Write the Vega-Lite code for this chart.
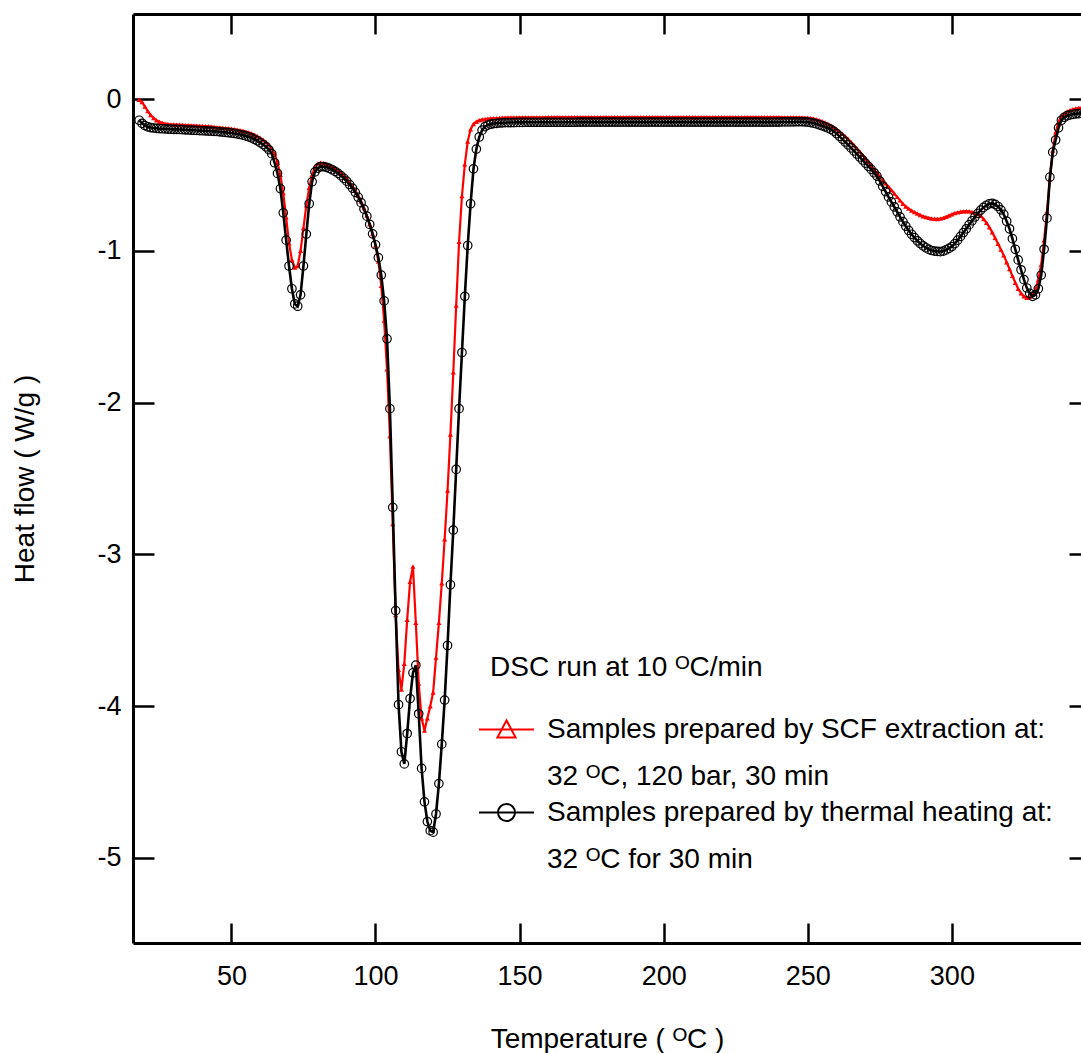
{
  "$schema": "https://vega.github.io/schema/vega-lite/v6.json",
  "width": 948,
  "height": 929,
  "autosize": {"type": "none"},
  "padding": {"left": 133, "top": 14, "right": 0, "bottom": 110},
  "background": "white",
  "config": {
    "view": {"stroke": null},
    "font": "Liberation Sans, Arial, DejaVu Sans, sans-serif",
    "axis": {
      "domainColor": "black", "domainWidth": 3, "tickColor": "black", "tickWidth": 2.5,
      "labelFont": "Liberation Sans, Arial, DejaVu Sans, sans-serif", "labelFontSize": 27, "labelColor": "black",
      "titleFont": "Liberation Sans, Arial, DejaVu Sans, sans-serif", "titleFontSize": 28, "titleFontWeight": "normal", "titleColor": "black",
      "grid": false
    }
  },
  "data": {"values": [
{"T":18,"a":-0.005,"b":-0.14},{"T":19,"a":-0.02,"b":-0.16},{"T":20,"a":-0.05,"b":-0.175},{"T":21,"a":-0.08,"b":-0.183},{"T":22,"a":-0.105,"b":-0.188},{"T":23,"a":-0.125,"b":-0.191},{"T":24,"a":-0.14,"b":-0.193},{"T":25,"a":-0.15,"b":-0.195},{"T":26,"a":-0.157,"b":-0.196},{"T":27,"a":-0.162,"b":-0.197},{"T":28,"a":-0.165,"b":-0.198},{"T":29,"a":-0.167,"b":-0.199},
{"T":30,"a":-0.168,"b":-0.2},{"T":31,"a":-0.169,"b":-0.2},{"T":32,"a":-0.17,"b":-0.201},{"T":33,"a":-0.171,"b":-0.202},{"T":34,"a":-0.172,"b":-0.203},{"T":35,"a":-0.173,"b":-0.204},{"T":36,"a":-0.174,"b":-0.205},{"T":37,"a":-0.175,"b":-0.206},{"T":38,"a":-0.176,"b":-0.207},{"T":39,"a":-0.177,"b":-0.208},
{"T":40,"a":-0.178,"b":-0.209},{"T":41,"a":-0.179,"b":-0.21},{"T":42,"a":-0.18,"b":-0.211},{"T":43,"a":-0.182,"b":-0.212},{"T":44,"a":-0.184,"b":-0.213},{"T":45,"a":-0.186,"b":-0.214},{"T":46,"a":-0.188,"b":-0.216},{"T":47,"a":-0.19,"b":-0.218},{"T":48,"a":-0.192,"b":-0.22},{"T":49,"a":-0.194,"b":-0.222},
{"T":50,"a":-0.196,"b":-0.224},{"T":51,"a":-0.199,"b":-0.227},{"T":52,"a":-0.202,"b":-0.23},{"T":53,"a":-0.206,"b":-0.234},{"T":54,"a":-0.21,"b":-0.238},{"T":55,"a":-0.215,"b":-0.243},{"T":56,"a":-0.22,"b":-0.249},{"T":57,"a":-0.227,"b":-0.256},{"T":58,"a":-0.235,"b":-0.265},{"T":59,"a":-0.245,"b":-0.275},
{"T":60,"a":-0.256,"b":-0.287},{"T":61,"a":-0.268,"b":-0.3},{"T":62,"a":-0.283,"b":-0.315},{"T":63,"a":-0.3,"b":-0.333},{"T":64,"a":-0.325,"b":-0.36},{"T":65,"a":-0.36,"b":-0.42},{"T":66,"a":-0.42,"b":-0.49},{"T":67,"a":-0.5,"b":-0.59},{"T":68,"a":-0.62,"b":-0.75},{"T":69,"a":-0.78,"b":-0.93},
{"T":70,"a":-0.95,"b":-1.1},{"T":71,"a":-1.06,"b":-1.25},{"T":72,"a":-1.11,"b":-1.35},{"T":73,"a":-1.1,"b":-1.365},{"T":74,"a":-1.0,"b":-1.29},{"T":75,"a":-0.85,"b":-1.1},{"T":76,"a":-0.7,"b":-0.89},{"T":77,"a":-0.585,"b":-0.69},{"T":78,"a":-0.5,"b":-0.545},{"T":79,"a":-0.45,"b":-0.48},
{"T":80,"a":-0.425,"b":-0.455},{"T":81,"a":-0.42,"b":-0.445},{"T":82,"a":-0.423,"b":-0.446},{"T":83,"a":-0.428,"b":-0.45},{"T":84,"a":-0.436,"b":-0.457},{"T":85,"a":-0.446,"b":-0.466},{"T":86,"a":-0.458,"b":-0.477},{"T":87,"a":-0.472,"b":-0.49},{"T":88,"a":-0.488,"b":-0.505},{"T":89,"a":-0.506,"b":-0.522},
{"T":90,"a":-0.526,"b":-0.541},{"T":91,"a":-0.549,"b":-0.563},{"T":92,"a":-0.575,"b":-0.587},{"T":93,"a":-0.604,"b":-0.615},{"T":94,"a":-0.637,"b":-0.647},{"T":95,"a":-0.675,"b":-0.683},{"T":96,"a":-0.718,"b":-0.725},{"T":97,"a":-0.768,"b":-0.772},{"T":98,"a":-0.825,"b":-0.826},{"T":99,"a":-0.89,"b":-0.888},
{"T":100,"a":-0.965,"b":-0.96},{"T":101,"a":-1.07,"b":-1.045},{"T":102,"a":-1.23,"b":-1.16},{"T":103,"a":-1.46,"b":-1.33},{"T":104,"a":-1.78,"b":-1.58},{"T":105,"a":-2.22,"b":-2.04},{"T":106,"a":-2.8,"b":-2.69},{"T":107,"a":-3.4,"b":-3.37},{"T":108,"a":-3.76,"b":-3.99},{"T":109,"a":-3.89,"b":-4.3},
{"T":110,"a":-3.72,"b":-4.38},{"T":111,"a":-3.43,"b":-4.18},{"T":112,"a":-3.18,"b":-3.95},{"T":113,"a":-3.08,"b":-3.78},{"T":114,"a":-3.45,"b":-3.73},{"T":115,"a":-3.85,"b":-4.05},{"T":116,"a":-4.08,"b":-4.41},{"T":117,"a":-4.16,"b":-4.63},{"T":118,"a":-4.08,"b":-4.76},{"T":119,"a":-4.0,"b":-4.82},
{"T":120,"a":-3.91,"b":-4.83},{"T":121,"a":-3.68,"b":-4.71},{"T":122,"a":-3.45,"b":-4.51},{"T":123,"a":-3.19,"b":-4.25},{"T":124,"a":-2.9,"b":-3.96},{"T":125,"a":-2.58,"b":-3.6},{"T":126,"a":-2.21,"b":-3.2},{"T":127,"a":-1.8,"b":-2.84},{"T":128,"a":-1.36,"b":-2.44},{"T":129,"a":-0.94,"b":-2.04},
{"T":130,"a":-0.64,"b":-1.67},{"T":131,"a":-0.43,"b":-1.3},{"T":132,"a":-0.28,"b":-0.965},{"T":133,"a":-0.2,"b":-0.69},{"T":134,"a":-0.165,"b":-0.46},{"T":135,"a":-0.15,"b":-0.33},{"T":136,"a":-0.14,"b":-0.25},{"T":137,"a":-0.135,"b":-0.205},{"T":138,"a":-0.132,"b":-0.182},{"T":139,"a":-0.13,"b":-0.172},
{"T":140,"a":-0.128,"b":-0.166},{"T":141,"a":-0.127,"b":-0.162},{"T":142,"a":-0.126,"b":-0.16},{"T":143,"a":-0.125,"b":-0.158},{"T":144,"a":-0.124,"b":-0.157},{"T":145,"a":-0.123,"b":-0.156},{"T":146,"a":-0.122,"b":-0.155},{"T":147,"a":-0.122,"b":-0.155},{"T":148,"a":-0.122,"b":-0.155},{"T":149,"a":-0.122,"b":-0.154},
{"T":150,"a":-0.121,"b":-0.154},{"T":151,"a":-0.121,"b":-0.154},{"T":152,"a":-0.121,"b":-0.153},{"T":153,"a":-0.121,"b":-0.153},{"T":154,"a":-0.121,"b":-0.153},{"T":155,"a":-0.121,"b":-0.153},{"T":156,"a":-0.121,"b":-0.153},{"T":157,"a":-0.121,"b":-0.153},{"T":158,"a":-0.121,"b":-0.153},{"T":159,"a":-0.121,"b":-0.153},
{"T":160,"a":-0.12,"b":-0.153},{"T":161,"a":-0.12,"b":-0.153},{"T":162,"a":-0.12,"b":-0.153},{"T":163,"a":-0.12,"b":-0.153},{"T":164,"a":-0.12,"b":-0.153},{"T":165,"a":-0.12,"b":-0.153},{"T":166,"a":-0.12,"b":-0.153},{"T":167,"a":-0.12,"b":-0.153},{"T":168,"a":-0.12,"b":-0.153},{"T":169,"a":-0.12,"b":-0.153},
{"T":170,"a":-0.12,"b":-0.152},{"T":171,"a":-0.12,"b":-0.152},{"T":172,"a":-0.12,"b":-0.152},{"T":173,"a":-0.12,"b":-0.152},{"T":174,"a":-0.12,"b":-0.152},{"T":175,"a":-0.12,"b":-0.152},{"T":176,"a":-0.12,"b":-0.152},{"T":177,"a":-0.12,"b":-0.152},{"T":178,"a":-0.12,"b":-0.152},{"T":179,"a":-0.12,"b":-0.152},
{"T":180,"a":-0.12,"b":-0.152},{"T":181,"a":-0.12,"b":-0.152},{"T":182,"a":-0.12,"b":-0.152},{"T":183,"a":-0.12,"b":-0.152},{"T":184,"a":-0.12,"b":-0.152},{"T":185,"a":-0.12,"b":-0.152},{"T":186,"a":-0.12,"b":-0.152},{"T":187,"a":-0.12,"b":-0.152},{"T":188,"a":-0.12,"b":-0.152},{"T":189,"a":-0.12,"b":-0.152},
{"T":190,"a":-0.12,"b":-0.152},{"T":191,"a":-0.12,"b":-0.152},{"T":192,"a":-0.12,"b":-0.152},{"T":193,"a":-0.12,"b":-0.152},{"T":194,"a":-0.12,"b":-0.152},{"T":195,"a":-0.12,"b":-0.152},{"T":196,"a":-0.12,"b":-0.152},{"T":197,"a":-0.12,"b":-0.152},{"T":198,"a":-0.12,"b":-0.152},{"T":199,"a":-0.12,"b":-0.152},
{"T":200,"a":-0.12,"b":-0.152},{"T":201,"a":-0.12,"b":-0.152},{"T":202,"a":-0.12,"b":-0.152},{"T":203,"a":-0.12,"b":-0.152},{"T":204,"a":-0.12,"b":-0.152},{"T":205,"a":-0.12,"b":-0.152},{"T":206,"a":-0.12,"b":-0.152},{"T":207,"a":-0.12,"b":-0.152},{"T":208,"a":-0.12,"b":-0.152},{"T":209,"a":-0.12,"b":-0.152},
{"T":210,"a":-0.12,"b":-0.152},{"T":211,"a":-0.12,"b":-0.152},{"T":212,"a":-0.12,"b":-0.152},{"T":213,"a":-0.12,"b":-0.152},{"T":214,"a":-0.12,"b":-0.152},{"T":215,"a":-0.12,"b":-0.152},{"T":216,"a":-0.12,"b":-0.152},{"T":217,"a":-0.12,"b":-0.152},{"T":218,"a":-0.12,"b":-0.152},{"T":219,"a":-0.12,"b":-0.152},
{"T":220,"a":-0.12,"b":-0.152},{"T":221,"a":-0.12,"b":-0.152},{"T":222,"a":-0.12,"b":-0.152},{"T":223,"a":-0.12,"b":-0.152},{"T":224,"a":-0.12,"b":-0.152},{"T":225,"a":-0.12,"b":-0.152},{"T":226,"a":-0.12,"b":-0.152},{"T":227,"a":-0.12,"b":-0.152},{"T":228,"a":-0.12,"b":-0.152},{"T":229,"a":-0.12,"b":-0.152},
{"T":230,"a":-0.12,"b":-0.152},{"T":231,"a":-0.12,"b":-0.152},{"T":232,"a":-0.12,"b":-0.152},{"T":233,"a":-0.12,"b":-0.152},{"T":234,"a":-0.12,"b":-0.152},{"T":235,"a":-0.12,"b":-0.152},{"T":236,"a":-0.12,"b":-0.152},{"T":237,"a":-0.12,"b":-0.152},{"T":238,"a":-0.12,"b":-0.152},{"T":239,"a":-0.12,"b":-0.152},
{"T":240,"a":-0.12,"b":-0.152},{"T":241,"a":-0.121,"b":-0.151},{"T":242,"a":-0.121,"b":-0.151},{"T":243,"a":-0.121,"b":-0.151},{"T":244,"a":-0.121,"b":-0.151},{"T":245,"a":-0.121,"b":-0.151},{"T":246,"a":-0.121,"b":-0.15},{"T":247,"a":-0.121,"b":-0.15},{"T":248,"a":-0.122,"b":-0.15},{"T":249,"a":-0.123,"b":-0.151},
{"T":250,"a":-0.124,"b":-0.152},{"T":251,"a":-0.126,"b":-0.155},{"T":252,"a":-0.129,"b":-0.159},{"T":253,"a":-0.134,"b":-0.164},{"T":254,"a":-0.14,"b":-0.17},{"T":255,"a":-0.147,"b":-0.176},{"T":256,"a":-0.155,"b":-0.183},{"T":257,"a":-0.164,"b":-0.191},{"T":258,"a":-0.175,"b":-0.2},{"T":259,"a":-0.187,"b":-0.212},
{"T":260,"a":-0.2,"b":-0.228},{"T":261,"a":-0.214,"b":-0.246},{"T":262,"a":-0.229,"b":-0.264},{"T":263,"a":-0.246,"b":-0.283},{"T":264,"a":-0.264,"b":-0.302},{"T":265,"a":-0.283,"b":-0.322},{"T":266,"a":-0.303,"b":-0.342},{"T":267,"a":-0.324,"b":-0.362},{"T":268,"a":-0.345,"b":-0.382},{"T":269,"a":-0.368,"b":-0.402},
{"T":270,"a":-0.392,"b":-0.422},{"T":271,"a":-0.416,"b":-0.443},{"T":272,"a":-0.44,"b":-0.464},{"T":273,"a":-0.464,"b":-0.486},{"T":274,"a":-0.488,"b":-0.508},{"T":275,"a":-0.51,"b":-0.54},{"T":276,"a":-0.533,"b":-0.575},{"T":277,"a":-0.556,"b":-0.61},{"T":278,"a":-0.578,"b":-0.645},{"T":279,"a":-0.6,"b":-0.678},
{"T":280,"a":-0.622,"b":-0.71},{"T":281,"a":-0.645,"b":-0.743},{"T":282,"a":-0.668,"b":-0.776},{"T":283,"a":-0.69,"b":-0.808},{"T":284,"a":-0.708,"b":-0.838},{"T":285,"a":-0.722,"b":-0.866},{"T":286,"a":-0.734,"b":-0.891},{"T":287,"a":-0.745,"b":-0.913},{"T":288,"a":-0.755,"b":-0.934},{"T":289,"a":-0.764,"b":-0.952},
{"T":290,"a":-0.772,"b":-0.967},{"T":291,"a":-0.778,"b":-0.98},{"T":292,"a":-0.783,"b":-0.991},{"T":293,"a":-0.787,"b":-0.998},{"T":294,"a":-0.789,"b":-1.002},{"T":295,"a":-0.79,"b":-1.004},{"T":296,"a":-0.788,"b":-1.005},{"T":297,"a":-0.783,"b":-1.002},{"T":298,"a":-0.776,"b":-0.994},{"T":299,"a":-0.767,"b":-0.984},
{"T":300,"a":-0.759,"b":-0.972},{"T":301,"a":-0.752,"b":-0.953},{"T":302,"a":-0.747,"b":-0.93},{"T":303,"a":-0.743,"b":-0.905},{"T":304,"a":-0.74,"b":-0.88},{"T":305,"a":-0.739,"b":-0.855},{"T":306,"a":-0.74,"b":-0.828},{"T":307,"a":-0.744,"b":-0.802},{"T":308,"a":-0.75,"b":-0.777},{"T":309,"a":-0.758,"b":-0.753},
{"T":310,"a":-0.77,"b":-0.732},{"T":311,"a":-0.79,"b":-0.714},{"T":312,"a":-0.815,"b":-0.7},{"T":313,"a":-0.845,"b":-0.69},{"T":314,"a":-0.878,"b":-0.688},{"T":315,"a":-0.915,"b":-0.694},{"T":316,"a":-0.953,"b":-0.708},{"T":317,"a":-0.992,"b":-0.73},{"T":318,"a":-1.03,"b":-0.76},{"T":319,"a":-1.075,"b":-0.805},
{"T":320,"a":-1.12,"b":-0.855},{"T":321,"a":-1.165,"b":-0.92},{"T":322,"a":-1.21,"b":-0.99},{"T":323,"a":-1.25,"b":-1.06},{"T":324,"a":-1.28,"b":-1.125},{"T":325,"a":-1.3,"b":-1.19},{"T":326,"a":-1.31,"b":-1.245},{"T":327,"a":-1.305,"b":-1.28},{"T":328,"a":-1.29,"b":-1.3},{"T":329,"a":-1.255,"b":-1.29},
{"T":330,"a":-1.19,"b":-1.25},{"T":331,"a":-1.09,"b":-1.16},{"T":332,"a":-0.93,"b":-0.99},{"T":333,"a":-0.74,"b":-0.785},{"T":334,"a":-0.53,"b":-0.515},{"T":335,"a":-0.34,"b":-0.35},{"T":336,"a":-0.22,"b":-0.27},{"T":337,"a":-0.15,"b":-0.19},{"T":338,"a":-0.115,"b":-0.14},{"T":339,"a":-0.095,"b":-0.12},
{"T":340,"a":-0.082,"b":-0.11},{"T":341,"a":-0.074,"b":-0.105},{"T":342,"a":-0.068,"b":-0.101},{"T":343,"a":-0.063,"b":-0.098},{"T":344,"a":-0.059,"b":-0.096},{"T":345,"a":-0.056,"b":-0.094},{"T":346,"a":-0.054,"b":-0.093}
  ]},
  "transform": [{"fold": ["a", "b"], "as": ["s", "v"]}],
  "layer": [
    {
      "transform": [{"filter": "datum.s === 'a'"}],
      "mark": {"type": "line", "strokeWidth": 2.2, "clip": true},
      "encoding": {
        "x": {"field": "T", "type": "quantitative", "scale": {"domain": [15.86, 344.8], "nice": false, "zero": false},
              "axis": {"orient": "bottom", "title": "Temperature ( ᴼC )", "values": [50, 100, 150, 200, 250, 300], "tickSize": -20, "labelPadding": 40, "titlePadding": 36}},
        "y": {"field": "v", "type": "quantitative", "scale": {"domain": [-5.56, 0.56], "nice": false, "zero": false},
              "axis": {"orient": "left", "title": "Heat flow ( W/g )", "values": [0, -1, -2, -3, -4, -5], "tickSize": -21, "labelPadding": 33, "titlePadding": 57,
                       "labelExpr": "replace(datum.label, '−', '-')"}},
        "color": {"field": "s", "type": "nominal", "scale": {"domain": ["a", "b"], "range": ["#ff0000", "#000000"]},
          "legend": {
            "orient": "none", "legendX": 345, "legendY": 640, "padding": 0,
            "title": "DSC run at 10 ᴼC/min", "titleFont": "Liberation Sans, Arial, DejaVu Sans, sans-serif", "titleFontSize": 28, "titleFontWeight": "normal", "titleColor": "black", "titleLimit": 0, "titlePadding": 19,
            "labelFont": "Liberation Sans, Arial, DejaVu Sans, sans-serif", "labelFontSize": 28, "labelColor": "black", "labelLimit": 0, "labelOffset": 12,
            "labelExpr": "datum.value === 'a' ? ['Samples prepared by SCF extraction at:', '32 ᴼC, 120 bar, 30 min'] : ['Samples prepared by thermal heating at:', '32 ᴼC for 30 min']",
            "symbolSize": 3025, "symbolStrokeWidth": 2, "rowPadding": 0,
            "encode": {
              "title": {"update": {"dx": {"value": 12}}},
              "labels": {"update": {"lineHeight": {"value": 47}, "dy": {"signal": "datum.index === 1 ? -7 : 0"}}},
              "symbols": {"update": {
                "y": {"field": "size", "mult": 0.5, "offset": {"signal": "datum.index === 1 ? -7 : 0"}},
                "shape": {"signal": "datum.value === 'a' ? 'M-1,0H1M-0.33,0.29L0,-0.33L0.33,0.29Z' : 'M-1,0H1M0.31,0A0.31,0.31,0,1,1,-0.31,0A0.31,0.31,0,1,1,0.31,0Z'"},
                "fill": {"value": "transparent"},
                "stroke": {"signal": "datum.value === 'a' ? '#ff0000' : '#000000'"},
                "strokeWidth": {"value": 2}
              }}
            }
          }
        }
      }
    },
    {
      "transform": [{"filter": "datum.s === 'a'"}],
      "mark": {"type": "point", "shape": "triangle-up", "filled": true, "size": 26, "color": "#ff0000", "strokeWidth": 0, "opacity": 1, "clip": true},
      "encoding": {
        "x": {"field": "T", "type": "quantitative", "axis": {"orient": "top", "values": [50, 100, 150, 200, 250, 300], "tickSize": -20, "labels": false, "title": null}},
        "y": {"field": "v", "type": "quantitative", "axis": {"orient": "right", "values": [0, -1, -2, -3, -4, -5], "tickSize": -12, "labels": false, "title": null, "domain": false}}
      }
    },
    {
      "transform": [{"filter": "datum.s === 'b'"}],
      "mark": {"type": "line", "strokeWidth": 2.6, "clip": true},
      "encoding": {
        "x": {"field": "T", "type": "quantitative", "axis": null},
        "y": {"field": "v", "type": "quantitative", "axis": null},
        "color": {"field": "s", "type": "nominal"}
      }
    },
    {
      "transform": [{"filter": "datum.s === 'b'"}],
      "mark": {"type": "point", "shape": "circle", "filled": false, "size": 72, "color": "#000000", "strokeWidth": 1.2, "opacity": 1, "clip": true},
      "encoding": {
        "x": {"field": "T", "type": "quantitative", "axis": null},
        "y": {"field": "v", "type": "quantitative", "axis": null}
      }
    }
  ],
  "resolve": {"axis": {"x": "independent", "y": "independent"}}
}
